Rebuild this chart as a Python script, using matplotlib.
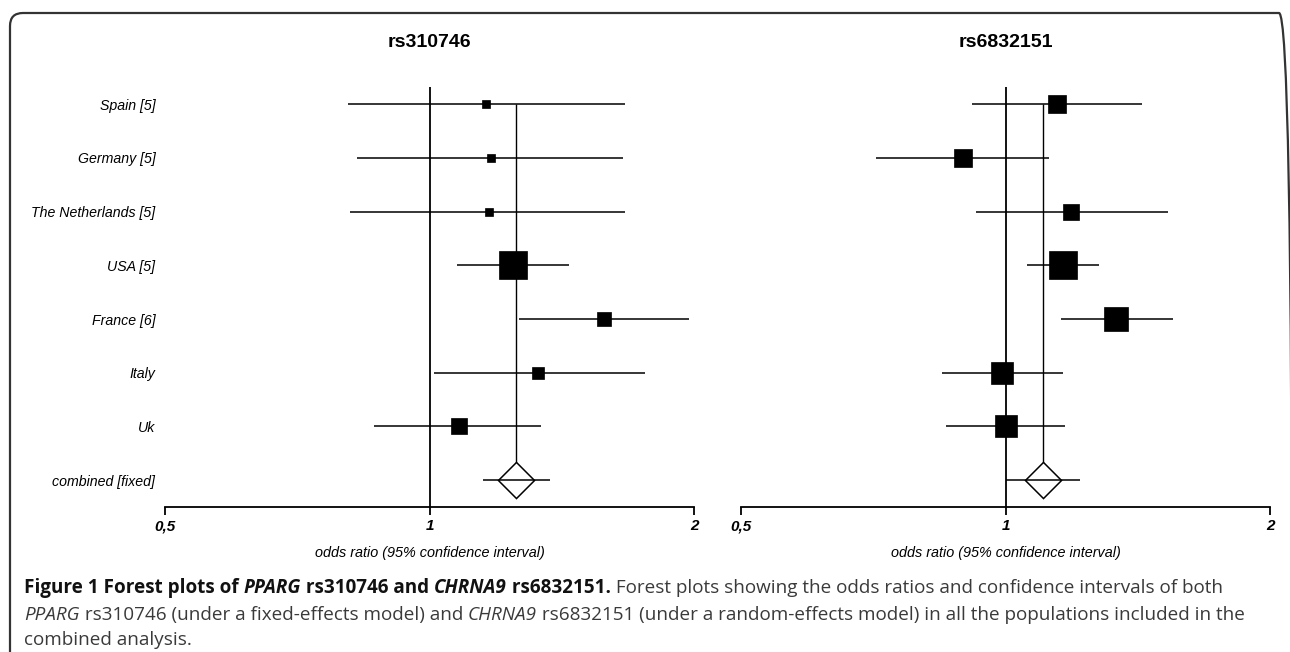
import matplotlib.pyplot as plt
import numpy as np
from matplotlib.patches import FancyBboxPatch
from matplotlib.transforms import IdentityTransform
from matplotlib.ticker import FixedLocator, NullLocator

# study rows (top to bottom)
labels = ['Spain [5]', 'Germany [5]', 'The Netherlands [5]', 'USA [5]',
          'France [6]', 'Italy', 'Uk']

# rs310746 (fixed effects)
or_310 = [1.159, 1.174, 1.170, 1.245, 1.580, 1.330, 1.079]
lo_310 = [0.808, 0.827, 0.811, 1.074, 1.263, 1.011, 0.864]
hi_310 = [1.669, 1.659, 1.669, 1.443, 1.972, 1.758, 1.340]
wt_310 = [4.1, 4.1, 4.1, 49.8, 12.5, 9.1, 16.3]
comb_310 = [1.256, 1.149, 1.371]  # OR, low, high

# rs6832151 (random effects)
or_683 = [1.143, 0.894, 1.188, 1.163, 1.337, 0.992, 1.002]
lo_683 = [0.915, 0.712, 0.926, 1.058, 1.157, 0.847, 0.856]
hi_683 = [1.430, 1.122, 1.529, 1.278, 1.551, 1.162, 1.170]
wt_683 = [9.9, 9.9, 7.8, 23.9, 17.5, 15.5, 15.5]
comb_683 = [1.102, 1.002, 1.216]

W, H = 1290, 652
fig = plt.figure(figsize=(W / 100, H / 100), dpi=100)
fig.patch.set_facecolor('white')

chart_font = 'Liberation Sans'


def forest(ax, title, ors, los, his, wts, comb, show_labels):
    n = len(ors)
    rows = np.arange(n)
    ax.set_xscale('log')
    ax.set_xlim(0.5, 2)
    ax.set_ylim(n + 0.5, -0.32)
    ax.axvline(1, color='black', lw=1.3, zorder=1)
    # summary line from first row down to the diamond
    ax.vlines(comb[0], 0, n, color='black', lw=1.0, zorder=1)
    ax.hlines(rows, los, his, color='black', lw=1.1, zorder=2)
    sizes = 20.2 * np.sqrt(np.array(wts) / max(wts))
    for r, o, s in zip(rows, ors, sizes):
        ax.plot(o, r, marker='s', ms=s, color='black', mec='black', mew=0.5, zorder=4)
    ax.plot(comb[0], n, marker=(4, 0, 0), ms=26, mfc='white', mec='black', mew=1.1, zorder=3)
    ax.hlines(n, comb[1], comb[2], color='black', lw=1.1, zorder=5)

    for side in ['top', 'right', 'left']:
        ax.spines[side].set_visible(False)
    ax.spines['bottom'].set_linewidth(1.3)
    ax.xaxis.set_major_locator(FixedLocator([0.5, 1, 2]))
    ax.xaxis.set_minor_locator(NullLocator())
    ax.set_xticklabels(['0,5', '1', '2'], fontsize=11, fontweight='bold',
                       fontstyle='italic', family=chart_font)
    ax.tick_params(axis='x', length=6, width=1.3, pad=3)
    ax.set_yticks(list(rows) + [n])
    if show_labels:
        ax.set_yticklabels(labels + ['combined [fixed]'], fontsize=10.2,
                           fontstyle='italic', family=chart_font)
    else:
        ax.set_yticklabels([])
    ax.tick_params(axis='y', length=0, pad=7)
    ax.set_xlabel('odds ratio (95% confidence interval)', fontsize=10.4,
                  fontstyle='italic', family=chart_font, labelpad=9)
    ax.set_title(title, fontsize=14, fontweight='bold', family=chart_font, pad=29)
    ax.patch.set_alpha(0)


ax1 = fig.add_axes([165 / W, 145 / H, 529 / W, 420 / H])
forest(ax1, 'rs310746', or_310, lo_310, hi_310, wt_310, comb_310, True)
ax2 = fig.add_axes([741 / W, 145 / H, 529 / W, 420 / H])
forest(ax2, 'rs6832151', or_683, lo_683, hi_683, wt_683, comb_683, False)

# frame around the figure
frame = FancyBboxPatch((10, -40), 1282, H - 13 + 40, boxstyle='round,pad=0,rounding_size=13',
                       transform=IdentityTransform(), fill=False, ec='#333333', lw=1.6)
fig.patches.append(frame)

# caption
cap_font = 'Open Sans'
cap_lines = [
    [('Figure 1 Forest plots of ', 'bold', 'normal'), ('PPARG', 'bold', 'italic'),
     (' rs310746 and ', 'bold', 'normal'), ('CHRNA9', 'bold', 'italic'),
     (' rs6832151.', 'bold', 'normal'),
     (' Forest plots showing the odds ratios and confidence intervals of both', 'normal', 'normal')],
    [('PPARG', 'normal', 'italic'), (' rs310746 (under a fixed-effects model) and ', 'normal', 'normal'),
     ('CHRNA9', 'normal', 'italic'),
     (' rs6832151 (under a random-effects model) in all the populations included in the', 'normal', 'normal')],
    [('combined analysis.', 'normal', 'normal')],
]
cap_base = [593, 620, 645]     # baselines, pixels from top
cap_end = [1237, 1221]         # right end of the first two lines
renderer = fig.canvas.get_renderer()


def place(pieces, x0, y, size):
    x = x0
    objs = []
    for txt, wgt, sty in pieces:
        t = fig.text(x / W, y / H, txt, fontsize=size, fontweight=wgt, fontstyle=sty,
                     family=cap_font, va='baseline', color='#111111' if wgt == 'bold' else '#3a3a3a')
        x += t.get_window_extent(renderer).width
        objs.append(t)
    return x, objs


# one common size, fitted to the first two lines
fits = []
for pieces, yb, xe in zip(cap_lines[:2], cap_base, cap_end):
    end, objs = place(pieces, 24, H - yb, 12)
    fits.append(12 * (xe - 24) / (end - 24))
    for o in objs:
        o.remove()
size = sum(fits) / len(fits)
for pieces, yb in zip(cap_lines, cap_base):
    place(pieces, 24, H - yb, size)

fig.savefig('out.png', dpi=100)
